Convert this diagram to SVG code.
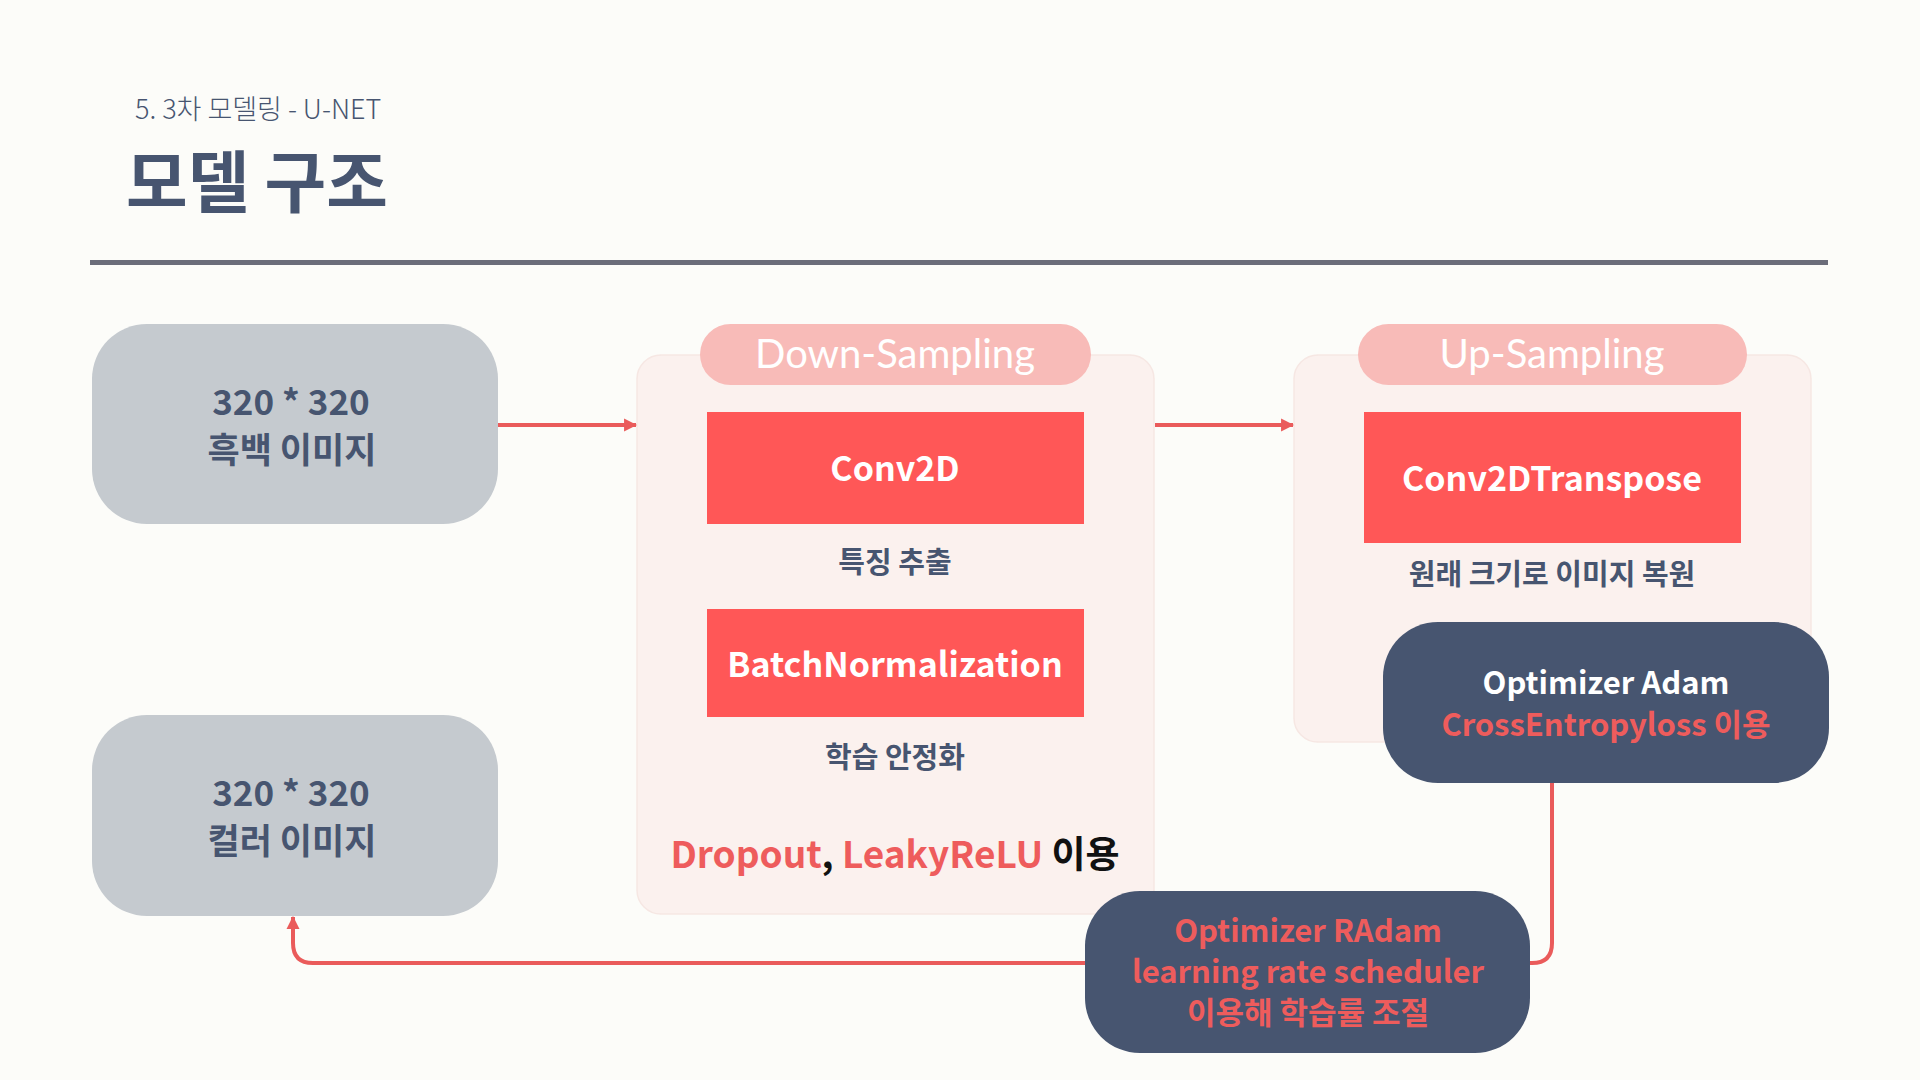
<svg xmlns="http://www.w3.org/2000/svg" width="1920" height="1080" viewBox="0 0 1920 1080">
  <defs>
    <marker id="arrow" viewBox="0 0 12 12" refX="11" refY="6" markerWidth="13" markerHeight="14" markerUnits="userSpaceOnUse" orient="auto">
      <path d="M0,0 L12,6 L0,12 Z" fill="#ea5b5b"/>
    </marker>
    <style>
      .kr { font-family: "Noto Sans CJK KR", "Noto Sans", sans-serif; }
      .gray { fill: #c5cacf; }
      .panel { fill: #fbf1ee; stroke: #f6e7e3; stroke-width: 1.5; }
      .pill { fill: #f8bbb8; }
      .block { fill: #ff5757; }
      .dark { fill: #475570; }
      .pilltxt { font-family: Lato, "Open Sans", sans-serif; font-weight: 400; font-size: 40px; fill: #ffffff; text-anchor: middle; }
      .blocktxt { font-weight: 700; font-size: 34px; fill: #ffffff; text-anchor: middle; }
      .lbl { font-weight: 700; font-size: 29px; fill: #475570; text-anchor: middle; }
      .io { font-weight: 700; font-size: 35px; fill: #475570; text-anchor: middle; }
      .opt { font-weight: 700; font-size: 31px; text-anchor: middle; }
      .red { fill: #ee5c5c; }
      .conn { fill: none; stroke: #ea5b5b; stroke-width: 4; }
    </style>
  </defs>

  <rect width="1920" height="1080" fill="#fcfcf9"/>

  <!-- heading -->
  <g id="heading">
    <text class="kr" x="135" y="119" font-size="27" font-weight="300" fill="#475570">5. 3차 모델링 - U-NET</text>
    <text class="kr" x="126" y="207" font-size="67" font-weight="700" fill="#475570">모델 구조</text>
    <rect x="90" y="260" width="1738" height="5" fill="#6b6d7a"/>
  </g>

  <!-- input image -->
  <g id="input">
    <rect class="gray" x="92" y="324" width="406" height="200" rx="55"/>
    <text class="kr io" x="291" y="415">320 * 320</text>
    <text class="kr io" x="292" y="463" font-size="34">흑백 이미지</text>
  </g>

  <!-- output image -->
  <g id="output">
    <rect class="gray" x="92" y="715" width="406" height="201" rx="55"/>
    <text class="kr io" x="291" y="806">320 * 320</text>
    <text class="kr io" x="292" y="854" font-size="34">컬러 이미지</text>
  </g>

  <!-- encoder stage -->
  <g id="down-sampling">
    <rect class="panel" x="637" y="355" width="517" height="559" rx="24"/>
    <rect class="pill" x="700" y="324" width="391" height="61" rx="30.5"/>
    <text class="pilltxt" x="895" y="368">Down-Sampling</text>
    <rect class="block" x="707" y="412" width="377" height="112"/>
    <text class="kr blocktxt" x="895" y="481">Conv2D</text>
    <text class="kr lbl" x="895" y="573">특징 추출</text>
    <rect class="block" x="707" y="609" width="377" height="108"/>
    <text class="kr blocktxt" x="895" y="677">BatchNormalization</text>
    <text class="kr lbl" x="895" y="768">학습 안정화</text>
    <text class="kr" x="895" y="868" font-size="37" font-weight="700" text-anchor="middle" fill="#111111"><tspan class="red">Dropout</tspan>, <tspan class="red">LeakyReLU</tspan> 이용</text>
  </g>

  <!-- decoder stage -->
  <g id="up-sampling">
    <rect class="panel" x="1294" y="355" width="517" height="387" rx="24"/>
    <rect class="pill" x="1358" y="324" width="389" height="61" rx="30.5"/>
    <text class="pilltxt" x="1552" y="368">Up-Sampling</text>
    <rect class="block" x="1364" y="412" width="377" height="131"/>
    <text class="kr blocktxt" x="1552" y="491">Conv2DTranspose</text>
    <text class="kr lbl" x="1552" y="585">원래 크기로 이미지 복원</text>
  </g>

  <!-- connectors -->
  <g id="connectors">
    <path class="conn" d="M498,425 H636" marker-end="url(#arrow)"/>
    <path class="conn" d="M1155,425 H1293" marker-end="url(#arrow)"/>
    <path class="conn" d="M1552,783 V943 Q1552,963 1532,963 H1520"/>
    <path class="conn" d="M1090,963 H313 Q293,963 293,943 V917" marker-end="url(#arrow)"/>
  </g>

  <!-- loss / optimizer -->
  <g id="optimizer-adam">
    <rect class="dark" x="1383" y="622" width="446" height="161" rx="55"/>
    <text class="kr opt" x="1606" y="694" fill="#ffffff">Optimizer Adam</text>
    <text class="kr opt red" x="1606" y="736">CrossEntropyloss 이용</text>
  </g>

  <!-- learning-rate scheduling -->
  <g id="optimizer-radam">
    <rect class="dark" x="1085" y="891" width="445" height="162" rx="55"/>
    <text class="kr opt red" x="1308" y="942">Optimizer RAdam</text>
    <text class="kr opt red" x="1308" y="983">learning rate scheduler</text>
    <text class="kr opt red" x="1308" y="1024">이용해 학습률 조절</text>
  </g>
</svg>
